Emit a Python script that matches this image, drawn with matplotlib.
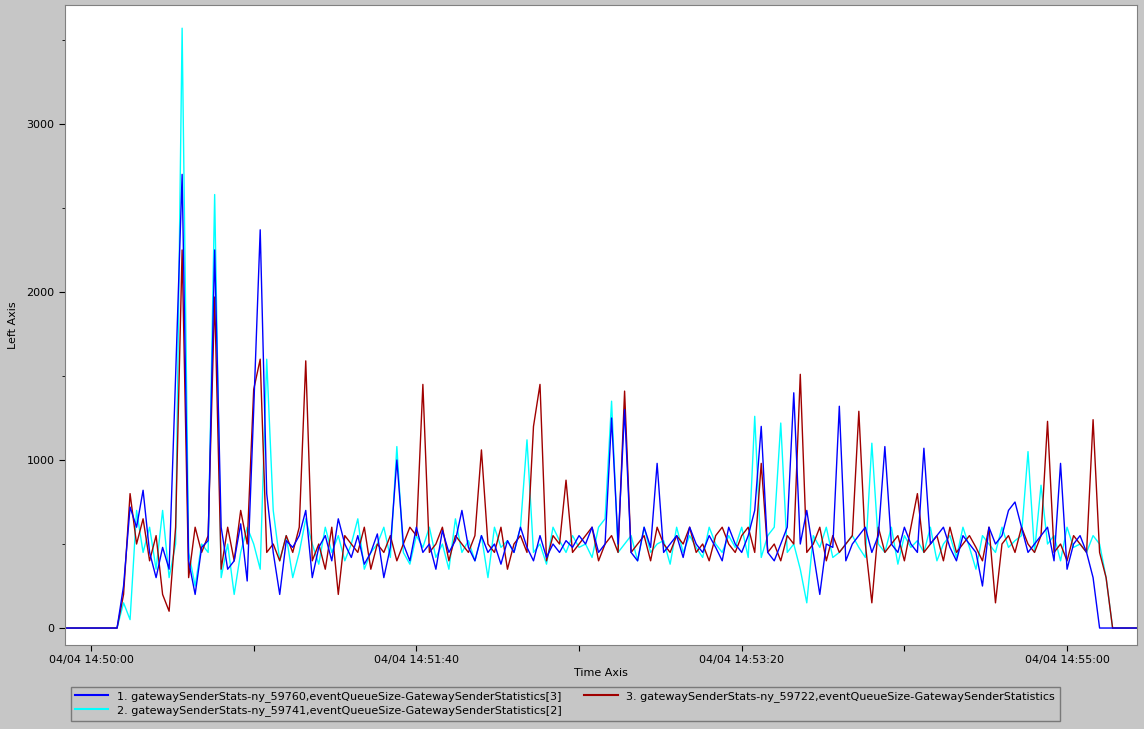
import numpy as np
import matplotlib
matplotlib.use("Agg")
import matplotlib.pyplot as plt
from matplotlib.lines import Line2D

start_sec = -8   # seconds relative to 14:50:00, sample step 2 s
step_sec = 2

blue = [0,0,0,0,0,0,0,0,0,250,720,600,820,450,300,480,350,1500,2700,400,200,480,520,2250,600,350,400,620,280,1300,
        2370,800,450,200,520,480,550,700,300,480,550,400,650,500,420,550,380,450,560,300,480,1000,500,400,600,450,500,350,580,450,
        520,700,480,400,550,450,500,380,520,450,600,480,400,550,420,500,450,520,480,550,500,600,450,500,1250,500,1300,450,400,600,
        480,980,450,500,550,420,600,500,450,550,480,400,600,500,450,550,700,1200,450,400,500,600,1400,500,700,450,200,500,480,1320,
        400,500,550,600,450,550,1080,500,450,600,500,450,1070,500,550,600,480,400,550,500,450,250,600,500,550,700,750,600,450,500,
        550,600,400,980,350,500,550,450,300,0,0,0,0,0,0,0,0]
cyan = [0,0,0,0,0,0,0,0,0,150,50,700,450,600,350,700,300,500,3570,450,250,500,450,2580,300,500,200,450,600,500,
        350,1600,700,400,550,300,450,650,500,380,600,450,550,400,500,650,350,450,500,600,420,1080,450,380,550,480,600,420,500,350,
        650,450,520,400,550,300,600,480,520,450,600,1120,450,500,380,600,520,450,550,480,500,420,600,650,1350,450,500,550,400,600,
        450,500,520,380,600,450,550,480,420,600,500,450,550,480,600,420,1260,420,550,600,1220,450,500,350,150,550,480,600,420,450,
        500,550,480,420,1100,500,450,600,380,550,480,520,450,600,400,500,550,420,600,480,350,550,500,450,600,480,520,550,1050,450,
        850,500,550,400,600,480,500,450,550,500,300,0,0,0,0,0,0]
red = [0,0,0,0,0,0,0,0,0,200,800,500,650,400,550,200,100,600,2250,300,600,450,550,1970,350,600,400,700,500,1420,
       1600,450,500,400,550,450,600,1590,400,500,350,600,200,550,500,450,600,350,500,450,550,400,500,600,550,1450,450,500,600,400,
       550,500,450,550,1060,500,450,600,350,500,550,450,1200,1450,400,550,500,880,450,500,550,600,400,500,550,450,1410,450,500,550,
       400,600,500,450,550,500,600,450,500,400,550,600,500,450,550,600,450,980,450,500,400,550,500,1510,450,500,600,400,550,450,
       500,550,1290,500,150,600,450,500,550,400,600,800,450,500,550,400,600,450,500,550,480,400,600,150,500,550,450,600,500,450,
       550,1230,450,500,400,550,500,450,1240,450,300,0,0,0,0,0,0,0,0]

legend_labels = ["1. gatewaySenderStats-ny_59760,eventQueueSize-GatewaySenderStatistics[3]",
                 "2. gatewaySenderStats-ny_59741,eventQueueSize-GatewaySenderStatistics[2]",
                 "3. gatewaySenderStats-ny_59722,eventQueueSize-GatewaySenderStatistics"]
colors = ["#0000ff", "#00ffff", "#a00000"]
xtick_labels = ["04/04 14:50:00", "04/04 14:51:40", "04/04 14:53:20", "04/04 14:55:00"]
ytick_vals = [0, 1000, 2000, 3000]

bg = "#c6c6c6"
fig = plt.figure(figsize=(11.44, 7.29), dpi=100, facecolor=bg)
ax = fig.add_axes([65/1144, 1-645/729, (1137-65)/1144, 640/729])
ax.set_facecolor("white")

def times(v):
    return start_sec + step_sec*np.arange(len(v))

for v, c in [(cyan, colors[1]), (red, colors[2]), (blue, colors[0])]:
    ax.plot(times(v), v, color=c, lw=1)

ax.set_xlim(-8, 321.5)
ax.set_ylim(-101, 3708)
ax.set_xticks([0, 50, 100, 150, 200, 250, 300])
ax.set_xticklabels([xtick_labels[0], "", xtick_labels[1], "", xtick_labels[2], "", xtick_labels[3]], fontsize=8)
ax.set_yticks(ytick_vals)
ax.set_yticklabels([str(v) for v in ytick_vals], fontsize=8)
ax.set_yticks(np.arange(0, 3700, 500), minor=True)
ax.tick_params(axis='both', direction='out', length=4)
ax.set_xlabel("Time Axis", fontsize=8, labelpad=2)
ax.set_ylabel("Left Axis", fontsize=8, labelpad=6)
for s in ax.spines.values():
    s.set_color("#808080")

handles = [Line2D([], [], color=c, lw=1.5) for c in colors]
leg = fig.legend(handles, legend_labels,
                 ncol=2, loc='upper left', bbox_to_anchor=(65/1144, 1-681/729),
                 fontsize=8, frameon=True, fancybox=False, handlelength=3,
                 columnspacing=2.0, borderpad=0.4, labelspacing=0.3)
leg.get_frame().set_facecolor(bg)
leg.get_frame().set_edgecolor("#666666")

fig.savefig("out.png", dpi=100, facecolor=bg)
